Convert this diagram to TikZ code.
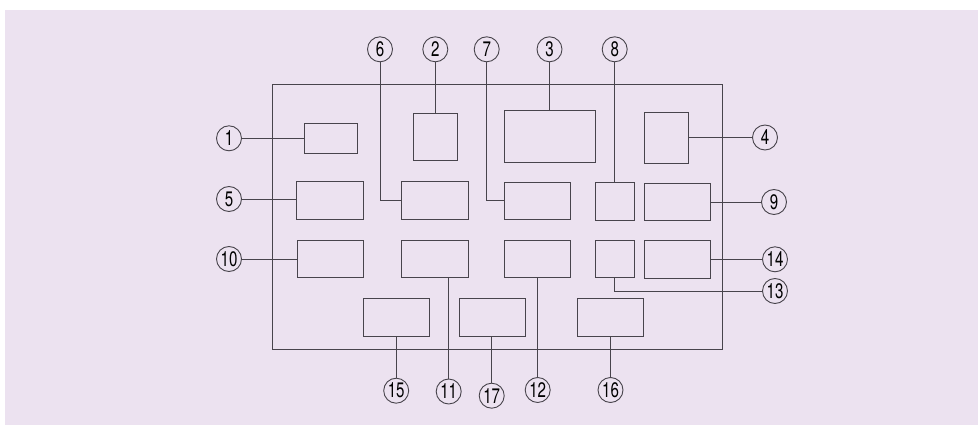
\documentclass[tikz,border=0pt]{standalone}
\usepackage{fontspec}
\setmainfont{TeX Gyre Heros}[FakeStretch=0.72]
\usepackage{tikz}
\definecolor{PanelLilac}{RGB}{236,226,240}
\definecolor{LineGray}{RGB}{72,68,76}

\begin{document}
\begin{tikzpicture}[x=1pt, y=-1pt, line width=0.9pt,
    part/.style={draw=LineGray, rectangle, inner sep=0pt},
    callout/.style={draw=LineGray, circle, minimum size=25pt, inner sep=0pt, font=\fontsize{21}{21}\selectfont}]
          \useasboundingbox (0,0) rectangle (978,425);
          \fill[PanelLilac] (5,10) rectangle (978,425);
          \draw[LineGray] (272.7,84.3) rectangle (722.7,349.5);
          \node[part, minimum width=52.6, minimum height=29.7] (b1) at (331,138.5) {};
          \node[part, minimum width=44, minimum height=47.3] (b2) at (435.3,137.3) {};
          \node[part, minimum width=90.7, minimum height=52] (b3) at (549.7,136.3) {};
          \node[part, minimum width=44, minimum height=50.7] (b4) at (666.3,137.7) {};
          \node[part, minimum width=66.4, minimum height=37.5] (b5) at (330,200.5) {};
          \node[part, minimum width=66.4, minimum height=37.5] (b6) at (435,200.5) {};
          \node[part, minimum width=66.4, minimum height=37.5] (b7) at (537.5,200.8) {};
          \node[part, minimum width=39, minimum height=37.7] (b8) at (615,201.2) {};
          \node[part, minimum width=66.4, minimum height=37] (b9) at (677.5,201.8) {};
          \node[part, minimum width=66.4, minimum height=37] (b10) at (330.5,258.8) {};
          \node[part, minimum width=66.4, minimum height=37] (b11) at (435,258.8) {};
          \node[part, minimum width=66.4, minimum height=37] (b12) at (537.5,258.8) {};
          \node[part, minimum width=38.7, minimum height=37.7] (b13) at (614.7,258.8) {};
          \node[part, minimum width=66.4, minimum height=37.6] (b14) at (677.5,259.5) {};
          \node[part, minimum width=66.3, minimum height=37.4] (b15) at (396.2,317.4) {};
          \node[part, minimum width=66.4, minimum height=37.6] (b16) at (610.5,317.4) {};
          \node[part, minimum width=65.6, minimum height=38] (b17) at (492.5,317.6) {};
          \node[callout] (c1) at (229,138.3) {1};
          \node[callout] (c2) at (435.3,49.3) {2};
          \node[callout] (c3) at (549.5,49.3) {3};
          \node[callout] (c4) at (765,137.5) {4};
          \node[callout] (c5) at (229,199) {5};
          \node[callout] (c6) at (380,49.3) {6};
          \node[callout] (c7) at (486.7,49.3) {7};
          \node[callout] (c8) at (614.7,49.3) {8};
          \node[callout] (c9) at (774,202) {9};
          \node[callout] (c10) at (229,259) {10};
          \node[callout] (c11) at (448.7,391.5) {11};
          \node[callout] (c12) at (537.7,390) {12};
          \node[callout] (c13) at (775,291) {13};
          \node[callout] (c14) at (775,259.3) {14};
          \node[callout] (c15) at (396.2,390.7) {15};
          \node[callout] (c16) at (610.5,390) {16};
          \node[callout] (c17) at (491.7,395.7) {17};
          \draw[LineGray] (c1) -- (c1 -| b1.west);
          \draw[LineGray] (c2) -- (c2 |- b2.north);
          \draw[LineGray] (c3) -- (c3 |- b3.north);
          \draw[LineGray] (c4) -- (c4 -| b4.east);
          \draw[LineGray] (c5) -- (c5 -| b5.west);
          \draw[LineGray] (c6) |- (b6.west);
          \draw[LineGray] (c7) |- (b7.west);
          \draw[LineGray] (c8) -- (c8 |- b8.north);
          \draw[LineGray] (c9) -- (c9 -| b9.east);
          \draw[LineGray] (c10) -- (c10 -| b10.west);
          \draw[LineGray] (c11) -- (c11 |- b11.south);
          \draw[LineGray] (c12) -- (c12 |- b12.south);
          \draw[LineGray] (b13.south) |- (c13);
          \draw[LineGray] (c14) -- (c14 -| b14.east);
          \draw[LineGray] (c15) -- (c15 |- b15.south);
          \draw[LineGray] (c16) -- (c16 |- b16.south);
          \draw[LineGray] (c17) -- (c17 |- b17.south);
        \end{tikzpicture}
\end{document}
